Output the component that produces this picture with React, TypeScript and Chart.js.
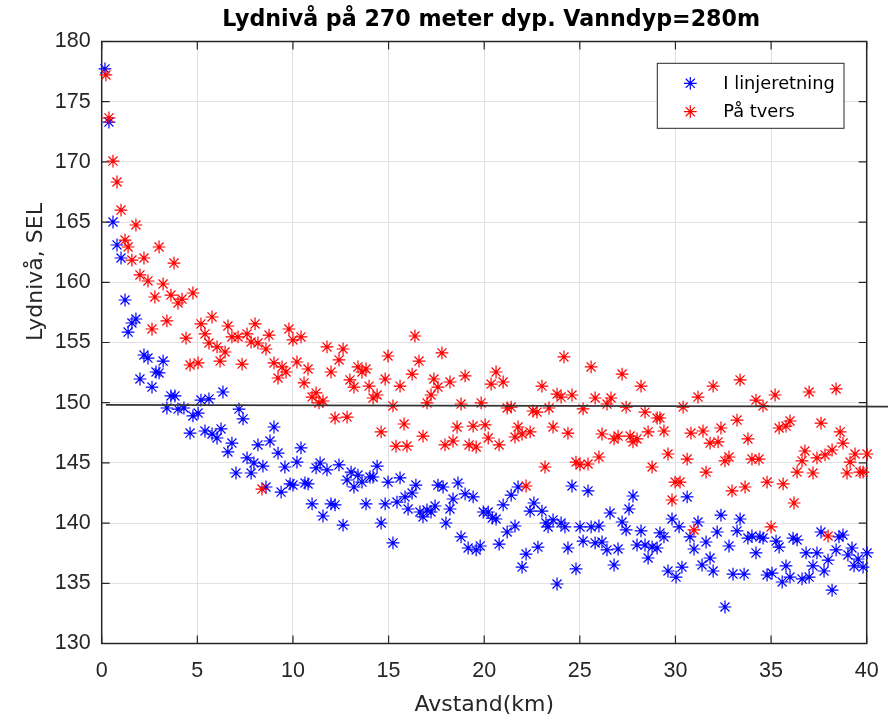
import React, { useEffect, useRef } from 'react';
import { Chart, registerables } from 'chart.js';

Chart.register(...registerables);

const TITLE = 'Lydnivå på 270 meter dyp. Vanndyp=280m';
const X_LABEL = 'Avstand(km)';
const Y_LABEL = 'Lydnivå, SEL';
const SERIES_NAMES = ['I linjeretning', 'På tvers'];
const X_TICKS = [0, 5, 10, 15, 20, 25, 30, 35, 40];
const Y_TICKS = [130, 135, 140, 145, 150, 155, 160, 165, 170, 175, 180];

const blueKm = [
  0.17, 0.38, 0.59, 0.80, 1.01, 1.22, 1.38, 1.58, 1.79, 2.00,
  2.21, 2.42, 2.63, 2.84, 3.00, 3.21, 3.41, 3.62, 3.83, 3.99,
  4.30, 4.62, 4.77, 5.04, 5.19, 5.40, 5.61, 5.77, 6.03, 6.24,
  6.34, 6.60, 6.81, 7.02, 7.18, 7.39, 7.60, 7.81, 7.96, 8.17,
  8.43, 8.59, 8.80, 9.01, 9.22, 9.38, 9.58, 9.85, 10.00, 10.21,
  10.42, 10.63, 10.79, 11.00, 11.21, 11.42, 11.57, 11.78, 11.99, 12.20,
  12.41, 12.62, 12.83, 13.04, 13.19, 13.40, 13.61, 13.82, 14.03, 14.19,
  14.40, 14.61, 14.82, 14.97, 15.23, 15.44, 15.60, 15.86, 16.02, 16.23,
  16.43, 16.64, 16.80, 17.01, 17.22, 17.43, 17.58, 17.85, 18.00, 18.21,
  18.37, 18.63, 18.79, 19.00, 19.16, 19.42, 19.58, 19.79, 19.95, 20.21,
  20.42, 20.62, 20.78, 20.99, 21.20, 21.41, 21.61, 21.77, 21.98, 22.19,
  22.40, 22.60, 22.81, 23.02, 23.23, 23.34, 23.60, 23.81, 24.02, 24.22,
  24.38, 24.59, 24.80, 25.01, 25.17, 25.43, 25.59, 25.80, 26.00, 26.16,
  26.42, 26.58, 26.79, 27.00, 27.21, 27.42, 27.57, 27.78, 27.99, 28.20,
  28.41, 28.57, 28.78, 29.04, 29.19, 29.40, 29.61, 29.82, 30.03, 30.19,
  30.34, 30.61, 30.76, 30.97, 31.18, 31.39, 31.60, 31.81, 31.97, 32.18,
  32.38, 32.59, 32.80, 33.01, 33.22, 33.38, 33.59, 33.79, 34.00, 34.21,
  34.42, 34.58, 34.79, 35.05, 35.26, 35.42, 35.58, 35.78, 35.99, 36.15,
  36.36, 36.62, 36.83, 36.99, 37.19, 37.40, 37.61, 37.77, 37.98, 38.19,
  38.40, 38.55, 38.76, 39.02, 39.23, 39.34, 39.55, 39.81, 40.02,
];

const blueSel = [
  177.72, 173.31, 165.01, 163.10, 162.02, 158.53, 155.87, 156.62, 156.95, 151.97,
  153.96, 153.71, 151.30, 152.55, 152.47, 153.46, 149.56, 150.56, 150.56, 149.47,
  149.56, 147.48, 148.90, 149.14, 150.22, 147.65, 150.31, 147.40, 147.07, 147.82,
  150.89, 145.91, 146.65, 144.16, 149.47, 148.65, 145.41, 144.16, 144.99, 146.49,
  144.74, 143.00, 146.82, 147.98, 145.82, 142.58, 144.66, 143.25, 143.16, 145.07,
  146.24, 143.33, 143.25, 141.59, 144.58, 144.99, 140.59, 144.42, 141.59, 141.51,
  144.83, 139.84, 143.58, 144.24, 143.00, 143.99, 143.41, 141.59, 143.83, 143.83,
  144.74, 140.01, 141.59, 143.41, 138.35, 141.75, 143.75, 142.17, 141.17, 142.50,
  143.16, 140.92, 140.51, 141.09, 140.92, 141.42, 143.16, 143.00, 140.01, 141.17,
  142.00, 143.33, 138.85, 142.42, 137.93, 142.17, 137.77, 138.10, 140.92, 140.92,
  140.42, 140.34, 138.26, 141.51, 139.26, 142.33, 139.76, 143.00, 136.35, 137.43,
  141.00, 141.67, 138.01, 141.00, 140.01, 139.68, 140.26, 134.94, 140.01, 139.68,
  137.93, 143.08, 136.19, 139.68, 138.51, 142.67, 139.68, 138.35, 139.76, 138.43,
  137.77, 140.84, 136.52, 137.85, 140.09, 139.43, 141.17, 142.25, 138.18, 139.35,
  138.18, 137.10, 138.01, 137.93, 139.18, 138.85, 136.02, 140.34, 135.52, 139.68,
  136.35, 142.17, 138.85, 137.85, 140.09, 136.52, 138.43, 137.10, 136.02, 139.26,
  140.67, 133.03, 138.10, 135.77, 139.35, 140.34, 135.77, 138.76, 138.93, 137.52,
  138.85, 138.76, 135.69, 135.85, 138.51, 138.01, 135.11, 136.44, 135.52, 138.76,
  138.60, 135.36, 137.52, 135.52, 136.44, 137.52, 139.26, 136.02, 136.93, 134.44,
  137.77, 138.85, 139.01, 137.35, 137.93, 136.44, 137.02, 136.35, 137.52,
];

const redKm = [
  0.22, 0.38, 0.59, 0.80, 1.01, 1.22, 1.38, 1.58, 1.79, 2.00,
  2.21, 2.42, 2.63, 2.78, 3.00, 3.21, 3.41, 3.62, 3.78, 3.99,
  4.20, 4.41, 4.62, 4.77, 5.04, 5.19, 5.40, 5.61, 5.77, 6.03,
  6.19, 6.45, 6.60, 6.81, 7.13, 7.34, 7.60, 7.81, 8.02, 8.17,
  8.38, 8.59, 8.75, 9.01, 9.22, 9.43, 9.64, 9.79, 10.00, 10.21,
  10.42, 10.58, 10.79, 11.00, 11.21, 11.36, 11.57, 11.78, 11.99, 12.20,
  12.41, 12.62, 12.83, 12.98, 13.19, 13.40, 13.61, 13.82, 13.98, 14.19,
  14.40, 14.61, 14.82, 14.97, 15.23, 15.39, 15.60, 15.81, 15.96, 16.23,
  16.38, 16.59, 16.80, 17.01, 17.22, 17.37, 17.58, 17.79, 17.95, 18.21,
  18.37, 18.58, 18.79, 19.00, 19.21, 19.42, 19.58, 19.84, 20.05, 20.21,
  20.36, 20.62, 20.78, 20.99, 21.20, 21.41, 21.61, 21.77, 21.98, 22.19,
  22.40, 22.55, 22.76, 23.02, 23.18, 23.39, 23.60, 23.81, 24.02, 24.17,
  24.38, 24.59, 24.80, 25.01, 25.17, 25.43, 25.59, 25.80, 26.00, 26.16,
  26.42, 26.63, 26.79, 27.00, 27.21, 27.42, 27.63, 27.78, 27.99, 28.20,
  28.41, 28.57, 28.78, 29.04, 29.19, 29.40, 29.61, 29.82, 29.98, 30.24,
  30.40, 30.61, 30.81, 30.97, 31.18, 31.44, 31.60, 31.81, 31.97, 32.23,
  32.38, 32.59, 32.80, 32.96, 33.22, 33.38, 33.64, 33.79, 34.00, 34.21,
  34.37, 34.58, 34.79, 35.00, 35.21, 35.42, 35.63, 35.78, 35.99, 36.20,
  36.36, 36.62, 36.77, 36.99, 37.19, 37.40, 37.61, 37.82, 37.98, 38.19,
  38.40, 38.61, 38.76, 38.97, 39.13, 39.39, 39.65, 39.81, 40.02,
];

const redSel = [
  177.22, 173.65, 170.07, 168.33, 166.00, 163.51, 162.93, 161.85, 164.76, 160.61,
  162.02, 160.11, 156.12, 158.78, 162.93, 159.86, 156.79, 158.94, 161.60, 158.28,
  158.61, 155.37, 153.13, 159.11, 153.30, 156.54, 155.71, 154.96, 157.12, 154.63,
  153.46, 154.21, 156.37, 155.46, 155.46, 153.21, 155.71, 155.04, 156.54, 154.96,
  142.83, 154.46, 155.62, 153.30, 152.05, 152.97, 152.55, 156.12, 155.21, 153.38,
  155.46, 151.64, 152.80, 150.47, 150.81, 149.98, 150.14, 154.63, 152.55, 148.73,
  153.55, 154.46, 148.81, 151.89, 151.30, 152.97, 152.55, 152.80, 151.38, 150.39,
  150.64, 147.57, 151.97, 153.88, 149.73, 146.40, 151.38, 148.23, 146.40, 152.38,
  155.54, 153.46, 147.23, 149.98, 150.64, 151.97, 151.30, 154.13, 146.49, 151.72,
  146.82, 147.98, 149.89, 152.22, 146.49, 148.06, 146.32, 149.98, 148.15, 147.07,
  151.55, 152.55, 146.49, 151.72, 149.56, 149.64, 147.15, 147.98, 147.40, 143.08,
  147.57, 149.31, 149.22, 151.38, 144.66, 149.56, 147.98, 150.72, 150.47, 153.80,
  147.48, 150.64, 145.07, 144.83, 149.48, 144.91, 152.97, 150.39, 145.49, 147.40,
  149.89, 150.39, 146.99, 147.23, 152.38, 149.64, 147.23, 146.74, 146.99, 151.38,
  149.22, 147.57, 144.66, 148.73, 148.73, 147.65, 145.74, 141.92, 143.41, 143.41,
  149.64, 145.32, 147.48, 139.43, 150.47, 147.65, 144.24, 146.65, 151.38, 146.74,
  147.90, 145.16, 145.49, 142.67, 148.56, 151.89, 143.00, 146.99, 145.32, 150.22,
  145.32, 149.73, 143.41, 139.68, 150.64, 147.90, 143.25, 148.06, 148.48, 141.67,
  144.24, 145.16, 145.99, 150.89, 144.16, 145.41, 148.31, 145.66, 138.93, 146.07,
  151.14, 147.57, 146.65, 144.16, 145.07, 145.74, 144.24, 144.24, 145.74,
];

// Reference level line
const refKm = [0.22, 41.11];
const refSel = [149.82, 149.68];

const BLUE = '#0000ff';
const RED = '#ff0000';
const AXIS_COLOR = '#262626';
const GRID_COLOR = '#e1e1e1';
const TICK_FONT = "'Liberation Sans', Arial, sans-serif";
const LABEL_FONT = "'DejaVu Sans', 'Liberation Sans', sans-serif";
const MARKER_R = 6.4;

function toPoints(xs: number[], ys: number[]) {
  return xs.map((x, i) => ({ x, y: ys[i] }));
}

function drawStar(ctx: CanvasRenderingContext2D, x: number, y: number, r: number, color: string) {
  ctx.save();
  ctx.strokeStyle = color;
  ctx.lineWidth = 1.2;
  ctx.beginPath();
  for (let k = 0; k < 4; k++) {
    const a = (k * Math.PI) / 4;
    ctx.moveTo(x - Math.cos(a) * r, y - Math.sin(a) * r);
    ctx.lineTo(x + Math.cos(a) * r, y + Math.sin(a) * r);
  }
  ctx.stroke();
  ctx.restore();
}

const decorPlugin = {
  id: 'matlabDecor',
  beforeDatasetsDraw(chart: any) {
    const { ctx, chartArea: a, scales } = chart;
    ctx.save();
    ctx.strokeStyle = AXIS_COLOR;
    ctx.lineWidth = 1.5;
    ctx.strokeRect(a.left, a.top, a.right - a.left, a.bottom - a.top);
    ctx.lineWidth = 1.2;
    const tl = 8;
    ctx.beginPath();
    for (const v of X_TICKS) {
      const px = scales.x.getPixelForValue(v);
      ctx.moveTo(px, a.bottom);
      ctx.lineTo(px, a.bottom - tl);
      ctx.moveTo(px, a.top);
      ctx.lineTo(px, a.top + tl);
    }
    for (const v of Y_TICKS) {
      const py = scales.y.getPixelForValue(v);
      ctx.moveTo(a.left, py);
      ctx.lineTo(a.left + tl, py);
      ctx.moveTo(a.right, py);
      ctx.lineTo(a.right - tl, py);
    }
    ctx.stroke();
    ctx.restore();
  },
  afterDraw(chart: any) {
    const { ctx, chartArea: a } = chart;
    ctx.save();
    // Title
    ctx.fillStyle = '#000000';
    ctx.font = `bold 22.2px ${LABEL_FONT}`;
    ctx.textAlign = 'center';
    ctx.textBaseline = 'middle';
    ctx.fillText(TITLE, (a.left + a.right) / 2 + 7, 20);

    // Y label
    ctx.save();
    ctx.translate(36, 272);
    ctx.rotate(-Math.PI / 2);
    ctx.fillStyle = AXIS_COLOR;
    ctx.font = `22px ${LABEL_FONT}`;
    ctx.textAlign = 'center';
    ctx.textBaseline = 'middle';
    ctx.fillText(Y_LABEL, 0, 0);
    ctx.restore();

    // Legend
    const lx = 657.3, ly = 63.3, lw = 186.7, lh = 65;
    ctx.fillStyle = '#ffffff';
    ctx.fillRect(lx, ly, lw, lh);
    ctx.strokeStyle = AXIS_COLOR;
    ctx.lineWidth = 1;
    ctx.strokeRect(lx, ly, lw, lh);
    const colors = [BLUE, RED];
    ctx.font = `17.8px ${LABEL_FONT}`;
    ctx.textAlign = 'left';
    ctx.textBaseline = 'middle';
    SERIES_NAMES.forEach((name, i) => {
      const yy = ly + 20 + i * 28.4;
      drawStar(ctx, lx + 33, yy, MARKER_R, colors[i]);
      ctx.fillStyle = '#000000';
      ctx.fillText(name, lx + 66, yy + 1);
    });
    ctx.restore();
  },
};

export default function App() {
  const canvasRef = useRef<HTMLCanvasElement | null>(null);

  useEffect(() => {
    const canvas = canvasRef.current;
    if (!canvas) return;
    const chart = new Chart(canvas, {
      type: 'scatter',
      data: {
        datasets: [
          {
            label: SERIES_NAMES[0],
            data: toPoints(blueKm, blueSel),
            pointStyle: 'star',
            pointRadius: MARKER_R,
            pointBorderWidth: 1.2,
            borderColor: BLUE,
            backgroundColor: BLUE,
            clip: false,
            order: 3,
          } as any,
          {
            label: SERIES_NAMES[1],
            data: toPoints(redKm, redSel),
            pointStyle: 'star',
            pointRadius: MARKER_R,
            pointBorderWidth: 1.2,
            borderColor: RED,
            backgroundColor: RED,
            clip: false,
            order: 2,
          } as any,
          {
            type: 'line',
            label: 'ref',
            data: toPoints(refKm, refSel),
            borderColor: '#333333',
            borderWidth: 1.8,
            pointRadius: 0,
            showLine: true,
            fill: false,
            clip: false,
            order: 1,
          } as any,
        ],
      },
      options: {
        responsive: false,
        animation: false,
        devicePixelRatio: 1,
        events: [],
        layout: { padding: { top: 41.5, right: 27.3, bottom: 0, left: 0 } },
        plugins: {
          legend: { display: false },
          title: { display: false },
          tooltip: { enabled: false },
        },
        scales: {
          x: {
            type: 'linear',
            min: 0,
            max: 40,
            afterBuildTicks: (s: any) => {
              s.ticks = X_TICKS.map((v) => ({ value: v }));
            },
            afterFit: (s: any) => {
              s.height = 75.5;
            },
            grid: { color: GRID_COLOR, lineWidth: 1, drawTicks: false },
            border: { display: false },
            ticks: {
              padding: 14.4,
              color: AXIS_COLOR,
              font: { family: TICK_FONT, size: 21.5 },
              maxRotation: 0,
              autoSkip: false,
            },
            title: {
              display: true,
              text: X_LABEL,
              color: AXIS_COLOR,
              font: { family: LABEL_FONT, size: 22 },
              padding: { top: 0, bottom: 1 },
            },
          },
          y: {
            type: 'linear',
            min: 130,
            max: 180,
            afterBuildTicks: (s: any) => {
              s.ticks = Y_TICKS.map((v) => ({ value: v }));
            },
            afterFit: (s: any) => {
              s.width = 101.7;
            },
            grid: { color: GRID_COLOR, lineWidth: 1, drawTicks: false },
            border: { display: false },
            ticks: {
              padding: 11,
              color: AXIS_COLOR,
              font: { family: TICK_FONT, size: 21.5 },
              autoSkip: false,
            },
            title: { display: false },
          },
        },
      } as any,
      plugins: [decorPlugin],
    });
    return () => chart.destroy();
  }, []);

  return (
    <div style={{ position: 'absolute', left: 0, top: 0, width: 894, height: 719, background: '#ffffff' }}>
      <canvas ref={canvasRef} width={894} height={719} style={{ display: 'block', width: 894, height: 719 }} />
    </div>
  );
}
